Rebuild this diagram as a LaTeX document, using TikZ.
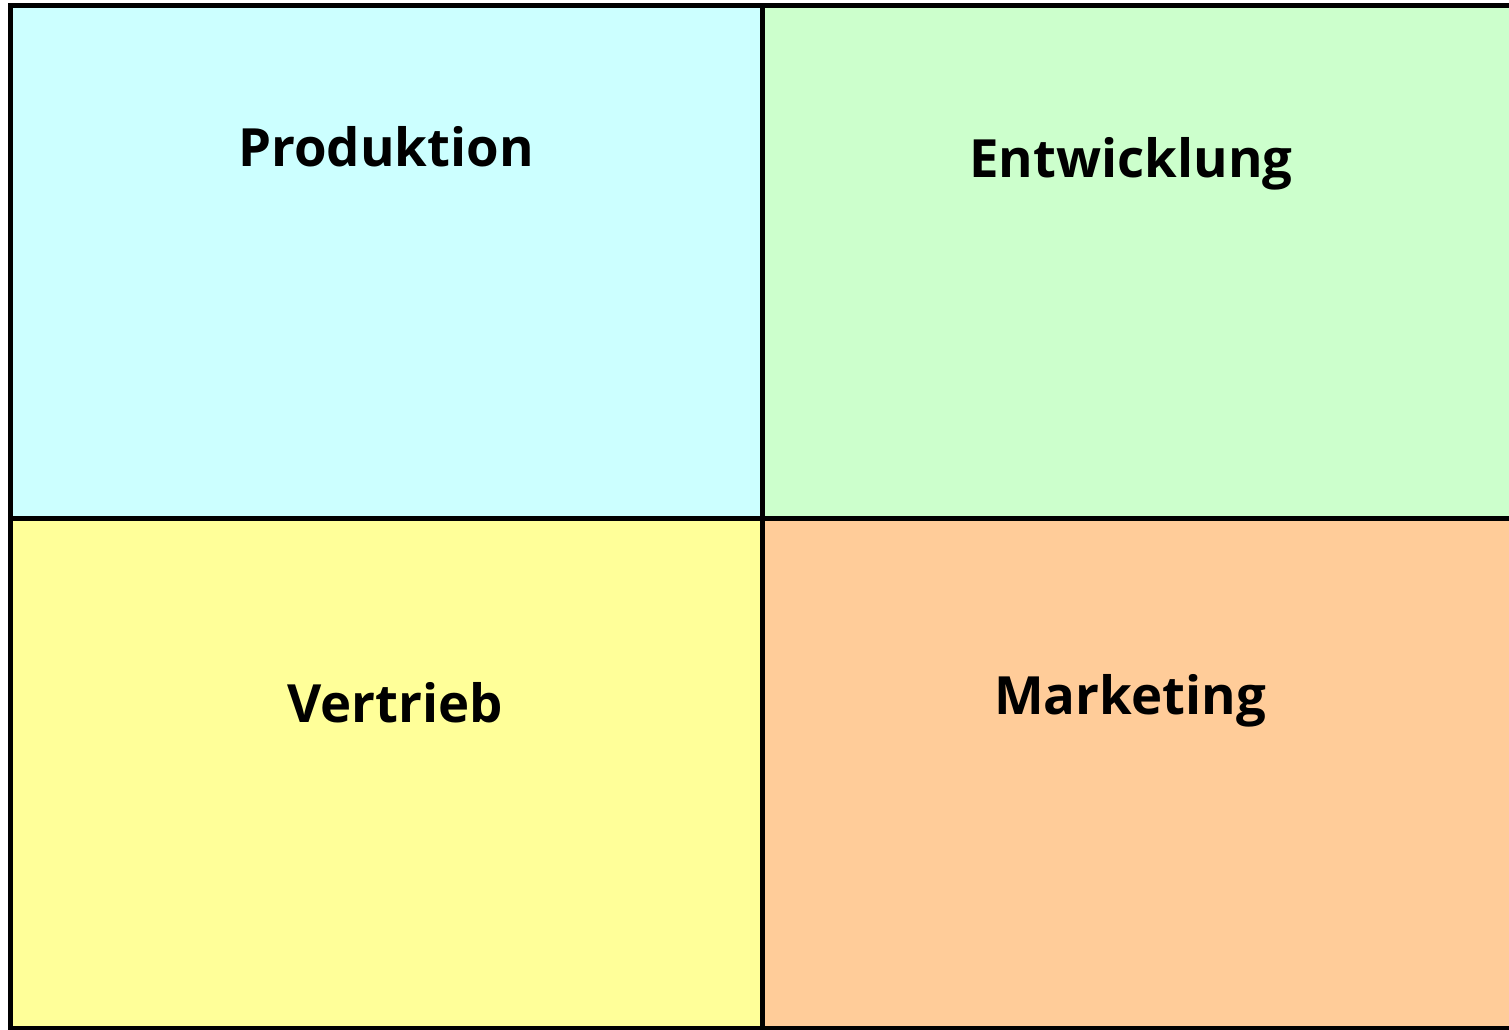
\documentclass[tikz,border=0pt]{standalone}
\usepackage{fontspec}
\setmainfont{Open Sans}
\definecolor{prodfill}{RGB}{204,255,255}
\definecolor{entwfill}{RGB}{204,255,204}
\definecolor{vertfill}{RGB}{255,255,153}
\definecolor{markfill}{RGB}{255,204,153}
\begin{document}
\begin{tikzpicture}[
  x=0.02cm, y=-0.02cm,
  grid line/.style={line width=2.85pt, black},
  area label/.style={font=\fontsize{30}{34}\selectfont\bfseries, inner sep=0pt}
]
  \useasboundingbox (0,0) rectangle (1509,1029);
  \fill[prodfill] (10,5) rectangle (762,518);
  \fill[entwfill] (762,5) rectangle (1540,518);
  \fill[vertfill] (10,518) rectangle (762,1028);
  \fill[markfill] (762,518) rectangle (1540,1028);
  \draw[grid line] (10.5,5.5) rectangle (1540,1028);
  \draw[grid line] (762,5.5) -- (762,1028);
  \draw[grid line] (10.5,518) -- (1540,518);
  \node[area label] (prod) at (386,147) {Produktion};
  \node[area label] (entw) at (1131,164) {Entwicklung};
  \node[area label] (vert) at (395,703) {Vertrieb};
  \node[area label] (mark) at (1130,701) {Marketing};
\end{tikzpicture}
\end{document}
